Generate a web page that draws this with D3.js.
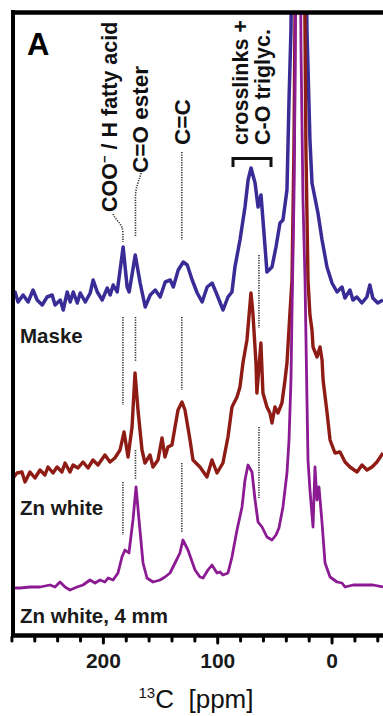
<!DOCTYPE html>
<html>
<head>
<meta charset="utf-8">
<script src="https://cdn.jsdelivr.net/npm/d3@7"></script>
<style>
html, body { margin: 0; padding: 0; background: #fff; }
svg { display: block; font-family: "Liberation Sans", Arial, Helvetica, sans-serif; }
</style>
</head>
<body>
<svg id="chart" width="383" height="716"></svg>
<script>
// 13C NMR spectra, intensities above each trace's own baseline (a.u.)
var sampleNames = ["Maske", "Zn white", "Zn white, 4 mm"];

var maskePpm = [281.5, 276.8, 274.2, 269.8, 265.4, 261.1, 257.5, 253.1, 248.8, 244.4,
    241.8, 237.3, 234.7, 231.2, 228.6, 225.9, 222.4, 219.8, 215.4, 211.1,
    208.5, 204.9, 200.6, 196.2, 193.6, 191.0, 187.5, 182.3, 178.8, 177.0,
    171.7, 167.4, 163.0, 158.6, 154.2, 149.9, 145.5, 141.1, 138.4, 134.1,
    129.7, 126.2, 121.9, 117.5, 113.2, 108.8, 104.5, 100.1, 94.9, 90.6,
    87.1, 84.5, 80.1, 75.7, 73.0, 70.4, 66.9, 64.3, 61.7, 59.1,
    56.5, 52.1, 48.6, 45.1, 42.5, 39.0, 37.2, 35.5, 32.9, 28.4,
    24.1, 21.5, 18.9, 17.1, 14.5, 11.9, 8.3, 4.0, -0.4, -4.8,
    -9.1, -11.7, -16.1, -18.7, -22.2, -26.5, -30.9, -33.5, -36.1, -40.4, -45];
var maskeInt = [-1, 5, -5, 2, -5, 7, -3, -8, 0, 2,
    -8, -3, -13, 5, -5, 5, -6, 4, -5, 4,
    17, 5, -3, 9, 2, 12, 5, 50, 10, 5,
    42, 14, -10, 2, 7, 0, 15, 17, 10, 27,
    35, 32, 17, 4, -5, 10, 14, 2, -13, 0,
    5, 30, 57, 90, 117, 129, 114, 90, 102, 64,
    25, 30, 50, 74, 77, 107, 197, 267, 497, 747,
    497, 267, 157, 114, 99, 84, 57, 30, 14, 5,
    10, -1, 7, -3, 0, -6, 0, 12, -1, -6, -3];

var znPpm = [281.2, 278.6, 275.1, 270.8, 268.1, 263.8, 259.4, 255.0, 250.7, 248.0,
    243.6, 240.1, 235.8, 233.1, 228.8, 226.1, 221.8, 217.4, 213.0, 208.7,
    204.3, 198.2, 193.8, 189.5, 185.0, 181.5, 178.0, 174.5, 171.9, 169.3,
    165.8, 163.2, 158.8, 156.2, 151.8, 148.3, 145.7, 143.1, 139.6, 136.9,
    134.3, 130.8, 128.2, 123.8, 121.2, 115.1, 109.0, 104.6, 100.2, 95.0,
    90.6, 87.1, 82.7, 80.1, 77.5, 74.0, 70.5, 68.8, 66.1, 65.3,
    61.8, 60.0, 56.5, 53.9, 52.1, 49.5, 46.9, 43.4, 40.7, 39.0,
    36.4, 34.6, 32.9, 31.1, 27.6, 24.1, 22.4, 20.6, 18.9, 17.1,
    16.2, 12.7, 10.1, 8.3, 7.4, 3.9, 1.3, -3.0, -7.4, -11.8,
    -16.1, -22.3, -26.6, -31.0, -35.4, -39.7, -45.0];
var znInt = [-4, -7, -2, -1, -11, -1, -7, 1, -4, 4,
    -2, 4, -1, 8, -1, 6, 3, 9, 3, 11,
    6, 16, 9, 13, 21, 39, 14, 44, 98, 61,
    21, 8, 16, 4, 11, 33, 14, 24, 26, 44,
    61, 69, 61, 31, 11, 4, -6, 11, -2, 8,
    34, 64, 74, 84, 108, 131, 178, 158, 108, 78,
    128, 78, 64, 58, 48, 64, 58, 68, 91, 108,
    158, 191, 321, 571, 871, 571, 321, 191, 156, 141,
    124, 114, 124, 111, 91, 58, 31, 18, 19, 9,
    4, -1, 6, 1, 4, 9, 18];

var zn4Ppm = [281.2, 272.5, 263.8, 255.0, 246.3, 241.9, 237.5, 233.1, 228.8, 222.6,
    217.4, 211.3, 206.9, 202.5, 198.2, 195.5, 191.1, 186.8, 183.3, 180.7,
    177.2, 173.7, 171.0, 168.4, 164.9, 161.4, 156.2, 150.0, 145.7, 141.3,
    136.9, 132.6, 130.0, 125.6, 119.4, 115.1, 112.4, 108.1, 104.6, 100.2,
    97.6, 95.0, 90.6, 87.1, 82.7, 78.3, 75.7, 73.1, 69.6, 66.9,
    64.3, 60.8, 56.5, 52.1, 48.6, 46.0, 42.5, 39.0, 37.2, 35.5,
    34.6, 32.9, 32.0, 29.4, 26.7, 25.0, 23.2, 21.5, 20.6, 18.9,
    16.2, 14.5, 12.7, 11.0, 8.3, 5.7, 1.3, -4.8, -9.1, -11.8,
    -18.8, -27.5, -36.3, -45.0];
var zn4Int = [1, 1, 2, 2, 4, 2, 7, 2, -1, 2,
    4, 9, 6, 9, 7, 11, 9, 16, 32, 39,
    36, 69, 102, 69, 26, 11, 7, 9, 12, 16,
    26, 36, 49, 39, 19, 12, 11, 19, 24, 16,
    17, 14, 16, 32, 59, 82, 109, 124, 117, 89,
    67, 62, 52, 49, 54, 61, 82, 116, 149, 209,
    276, 389, 489, 989, 539, 389, 309, 189, 129, 99,
    62, 122, 89, 102, 66, 26, 12, 7, 6, 2,
    4, 4, 4, 2];

// x axis
var xTicks = d3.range(280, -41, -20);
var xLabels = [200, 100, 0];

// assignment markers (ppm)
var markerPpm = [182.5, 171.5, 131, 63.5];

var svg = d3.select("#chart");
var W = 383, H = 716;
var mLeft = 12, mRight = 383, mTop = 12, mBottom = 635;

var x = d3.scaleLinear().domain([279.5, -45]).range([mLeft, mRight]);
var y = d3.scaleLinear().domain([0, 623]).range([mBottom, mTop]);

var offsets = [338, 164, 46];
var colors = ["#3a2c96", "#8e1c14", "#8b1a93"];
var widths = [3.5, 3.4, 2.8];
var series = [
    d3.zip(maskePpm, maskeInt),
    d3.zip(znPpm, znInt),
    d3.zip(zn4Ppm, zn4Int)
];

svg.append("clipPath").attr("id", "plot")
    .append("rect")
    .attr("x", mLeft).attr("y", mTop)
    .attr("width", mRight - mLeft).attr("height", mBottom - mTop);

// dotted guide lines
var guides = svg.append("g")
    .attr("fill", "none")
    .attr("stroke", "#333")
    .attr("stroke-width", 1.6)
    .attr("stroke-dasharray", "1.2,1.3");

var segs = [
    [0, 317, 405], [0, 482, 535],
    [1, 317, 362], [1, 450, 480],
    [2, 152, 240], [2, 317, 390], [2, 463, 533],
    [3, 255, 328], [3, 427, 498]
];
guides.selectAll("line")
    .data(segs)
    .enter().append("line")
    .attr("x1", function(d) { return x(markerPpm[d[0]]); })
    .attr("x2", function(d) { return x(markerPpm[d[0]]); })
    .attr("y1", function(d) { return d[1]; })
    .attr("y2", function(d) { return d[2]; });

// curved leaders from the two left labels
var xc = x(markerPpm[0]), xe = x(markerPpm[1]);
guides.append("path")
    .attr("d", "M113,214 C117,222 " + xc + ",224 " + xc + ",233 L" + xc + ",242");
guides.append("path")
    .attr("d", "M141,173 C139,182 " + xe + ",186 " + xe + ",198 L" + xe + ",236");

// spectra
var line = d3.line()
    .x(function(d) { return x(d[0]); })
    .y(function(d) { return y(d[1]); });

svg.append("g")
    .attr("clip-path", "url(#plot)")
    .selectAll("path")
    .data(series)
    .enter().append("path")
    .attr("fill", "none")
    .attr("stroke", function(d, i) { return colors[i]; })
    .attr("stroke-width", function(d, i) { return widths[i]; })
    .attr("stroke-linejoin", "round")
    .attr("d", function(d, i) {
        var off = offsets[i];
        return line(d.map(function(p) { return [p[0], p[1] + off]; }));
    });

// frame
svg.append("line")
    .attr("x1", mLeft + 1).attr("x2", mLeft + 1)
    .attr("y1", mTop - 2).attr("y2", mBottom + 2)
    .attr("stroke", "#000").attr("stroke-width", 4);
svg.append("line")
    .attr("x1", mLeft - 1).attr("x2", W)
    .attr("y1", mTop + 0.5).attr("y2", mTop + 0.5)
    .attr("stroke", "#000").attr("stroke-width", 4.5);

var axis = svg.append("g")
    .attr("transform", "translate(0," + mBottom + ")")
    .call(d3.axisBottom(x)
        .tickValues(xTicks)
        .tickSize(6)
        .tickSizeOuter(0)
        .tickFormat(function(d) { return xLabels.indexOf(d) >= 0 ? d : ""; }));
axis.select(".domain")
    .attr("stroke", "#000").attr("stroke-width", 4.5);
axis.selectAll(".tick line")
    .attr("stroke", "#000").attr("stroke-width", 3)
    .attr("stroke-linecap", "round")
    .attr("y1", 2)
    .attr("y2", function(d) { return xLabels.indexOf(d) >= 0 ? 8 : 6; });
axis.selectAll(".tick text")
    .attr("y", 18)
    .attr("fill", "#1a1a1a")
    .attr("font-family", "Liberation Sans, Arial, sans-serif")
    .attr("font-size", 21)
    .attr("font-weight", "bold");

// axis title
var title = svg.append("text")
    .attr("x", 196).attr("y", 708)
    .attr("text-anchor", "middle")
    .attr("font-size", 26)
    .attr("fill", "#111")
    .attr("xml:space", "preserve");
title.append("tspan").attr("font-size", 15).attr("dy", -10).text("13");
title.append("tspan").attr("dy", 10).text("C\u00a0 [ppm]");

// panel letter
svg.append("text")
    .attr("x", 27).attr("y", 55)
    .attr("font-size", 31).attr("font-weight", "bold")
    .text("A");

// sample names
var nameY = [343, 515, 623];
svg.selectAll(".name")
    .data(sampleNames)
    .enter().append("text")
    .attr("class", "name")
    .attr("x", 20)
    .attr("y", function(d, i) { return nameY[i]; })
    .attr("font-size", 20.5)
    .attr("font-weight", "bold")
    .attr("fill", "#1a1a1a")
    .text(function(d) { return d; });

// rotated assignment labels
function vlabel(px, py, fs) {
    return svg.append("text")
        .attr("transform", "translate(" + px + "," + py + ") rotate(-90)")
        .attr("font-size", fs || 21.5)
        .attr("font-weight", "bold")
        .attr("fill", "#111");
}
var t1 = vlabel(117, 212);
t1.append("tspan").text("COO");
t1.append("tspan").attr("font-size", 13).attr("dy", -8).text("\u2212");
t1.append("tspan").attr("dy", 8).text(" / H fatty acid");
vlabel(148, 173, 22.5).text("C=O ester");
vlabel(190, 145, 22.5).text("C=C");
vlabel(248, 145).text("crosslinks +");
vlabel(270, 145).text("C-O triglyc.");

// bracket over the crosslinks region
svg.append("path")
    .attr("d", "M233,167 L233,158.5 L271,158.5 L271,167")
    .attr("fill", "none")
    .attr("stroke", "#111")
    .attr("stroke-width", 3);
</script>
</body>
</html>
